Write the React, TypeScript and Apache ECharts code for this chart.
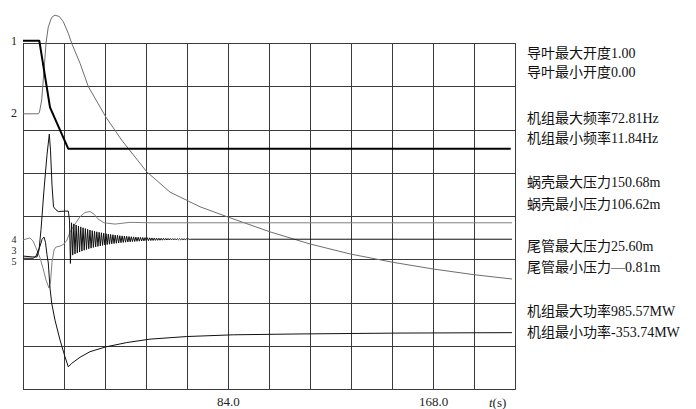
import React, { useEffect, useRef } from "react";
import * as echarts from "echarts";

// ---- axes ----
const X_MAX = 201.6;
const X_STEP = 16.8;
const Y_MAX = 8;
const xLabelValues = [84, 168];

// ---- series (t in s, value in grid divisions) ----
const guideVane: number[][] = [
  [0, 8.06], [6.67, 8.06], [11.05, 6.52], [18.54, 5.56], [199.57, 5.56],
];

const frequency: number[][] = [
  [0, 6.37], [6.34, 6.37], [6.75, 6.41], [7.65, 6.69], [8.72, 7.46], [9.41, 8.0],
  [10.35, 8.38], [11.74, 8.6], [13.09, 8.65], [14.85, 8.62], [16.49, 8.5],
  [18.54, 8.23], [19.93, 8.0], [23.32, 7.54], [26.72, 7.0], [33.84, 6.3],
  [40.39, 5.76], [50.62, 5.03], [60.15, 4.56], [72.43, 4.22], [84.0, 3.98],
  [101.07, 3.64], [117.44, 3.36], [133.81, 3.13], [151.0, 2.94], [168.0, 2.78],
  [184.55, 2.65], [200.1, 2.55],
];

const spiralCaseStart: number[][] = [
  [0, 3.08], [4.09, 3.06], [5.73, 3.06], [6.55, 3.22], [7.37, 3.69], [8.59, 4.61],
  [9.82, 5.42], [10.76, 5.9], [11.25, 5.53], [11.87, 4.72], [12.48, 4.22],
  [13.5, 4.15], [14.44, 4.11], [17.19, 4.12], [18.54, 4.12], [19.03, 3.91],
];
const oscStartT = 19.4;
const oscStepT = 0.47;
const spiralCaseOsc: number[] = [
  2.91, 3.85, 3.103, 3.824, 3.129, 3.799, 3.153, 3.776, 3.175, 3.755, 3.195,
  3.735, 3.214, 3.717, 3.232, 3.699, 3.249, 3.683, 3.264, 3.668, 3.279, 3.654,
  3.292, 3.642, 3.304, 3.63, 3.316, 3.619, 3.327, 3.608, 3.337, 3.599, 3.346,
  3.59, 3.355, 3.581, 3.363, 3.574, 3.37, 3.566, 3.377, 3.56, 3.384, 3.553,
  3.39, 3.547, 3.395, 3.542, 3.401, 3.537, 3.405, 3.532, 3.41, 3.528, 3.414,
  3.524, 3.418, 3.52, 3.422, 3.517, 3.425, 3.513, 3.428, 3.51, 3.431, 3.508,
  3.434, 3.505, 3.436, 3.502, 3.439, 3.5, 3.441, 3.498, 3.443, 3.496, 3.445,
  3.494, 3.447, 3.492, 3.448, 3.491, 3.45, 3.489, 3.451, 3.488, 3.453, 3.487,
  3.454, 3.485, 3.455, 3.484, 3.456, 3.483, 3.457, 3.482, 3.458, 3.481, 3.459,
  3.48, 3.46, 3.48, 3.461, 3.479, 3.461,
];
const spiralCaseEnd: number[][] = [[68.6, 3.47], [200.1, 3.47]];

const draftTube: number[][] = [
  [0, 3.45], [1.23, 3.475], [2.86, 3.5], [4.09, 3.43], [5.32, 3.27], [6.96, 3.04],
  [8.18, 2.8], [9.41, 2.53], [10.64, 2.34], [11.25, 2.48], [11.87, 2.94],
  [12.69, 3.22], [13.5, 3.29], [15.14, 3.31], [16.78, 3.36], [18.0, 3.45],
  [19.23, 3.64], [21.28, 3.82], [23.32, 3.99], [25.37, 4.09], [27.42, 4.11],
  [29.05, 4.05], [30.69, 3.94], [33.15, 3.85], [37.65, 3.82], [43.78, 3.86],
  [51.97, 3.85], [200.1, 3.85],
];

const power: number[][] = [
  [0, 3.03], [4.21, 3.03], [5.32, 3.08], [6.96, 3.31], [7.8, 3.47], [8.59, 3.52],
  [9.2, 3.4], [9.82, 3.11], [10.35, 2.92], [11.05, 2.34], [11.74, 1.99],
  [13.09, 1.6], [15.14, 1.14], [17.19, 0.75], [18.54, 0.52], [19.93, 0.6],
  [23.32, 0.74], [27.42, 0.87], [33.84, 0.98], [42.43, 1.08], [51.97, 1.16],
  [66.99, 1.22], [86.06, 1.26], [113.35, 1.28], [154.27, 1.3], [200.1, 1.31],
];

// ---- texts ----
const leftLabels = ["1", "2", "4", "3", "5"];
const rightLabels = [
  "导叶最大开度1.00",
  "导叶最小开度0.00",
  "机组最大频率72.81Hz",
  "机组最小频率11.84Hz",
  "蜗壳最大压力150.68m",
  "蜗壳最小压力106.62m",
  "尾管最大压力25.60m",
  "尾管最小压力—0.81m",
  "机组最大功率985.57MW",
  "机组最小功率-353.74MW",
];
const axisUnit = "(s)";
const axisVar = "t";

// layout
const leftLabelY = [41, 113, 239.5, 250.3, 261];
const leftLabelSize = [12, 12, 10, 10, 10];
const rightLabelY = [53.3, 72.7, 118.3, 138.3, 182.7, 204.3, 246, 267.3, 311.7, 332.7];

const SERIF = "'Liberation Serif', 'Noto Sans CJK SC', serif";

export default function App() {
  const ref = useRef<HTMLDivElement>(null);
  useEffect(() => {
    document.body.style.margin = "0";
    const chart = echarts.init(ref.current!, null, { renderer: "svg" });
    const spiralCase = [
      ...spiralCaseStart,
      ...spiralCaseOsc.map((v, i) => [oscStartT + i * oscStepT, v]),
      ...spiralCaseEnd,
    ];
    const line = (data: number[][], color: string, width: number, z: number) => ({
      type: "line",
      data,
      showSymbol: false,
      symbol: "none",
      clip: false,
      silent: true,
      z,
      lineStyle: { color, width },
    });
    const graphics: any[] = [];
    leftLabels.forEach((t, i) => {
      graphics.push({
        type: "text",
        x: 14,
        y: leftLabelY[i],
        style: {
          text: t, fill: "#222", font: `${leftLabelSize[i]}px ${SERIF}`, lineHeight: 9,
          textAlign: "center", textVerticalAlign: "middle", align: "center", verticalAlign: "middle",
        },
      });
    });
    rightLabels.forEach((t, i) => {
      graphics.push({
        type: "text",
        x: 527,
        y: rightLabelY[i],
        style: {
          text: t, fill: "#111", font: `14px ${SERIF}`,
          textAlign: "left", textVerticalAlign: "middle", align: "left", verticalAlign: "middle",
        },
      });
    });
    graphics.push({
      type: "text",
      x: 489,
      y: 402,
      style: {
        text: `{i|${axisVar}}{n|${axisUnit}}`,
        fill: "#222",
        font: `13px ${SERIF}`,
        textVerticalAlign: "middle",
        verticalAlign: "middle",
        rich: {
          i: { fontStyle: "italic", fontFamily: SERIF, fontSize: 13, fill: "#222", color: "#222" },
          n: { fontFamily: SERIF, fontSize: 13, fill: "#222", color: "#222" },
        },
      },
    });

    chart.setOption({
      animation: false,
      backgroundColor: "#fff",
      grid: { left: 23, right: 180.3, top: 43.3, bottom: 19.7, containLabel: false },
      xAxis: {
        type: "value",
        min: 0,
        max: X_MAX,
        interval: X_STEP,
        axisLine: { show: false },
        axisTick: { show: false },
        axisLabel: {
          margin: 6,
          color: "#222",
          fontFamily: SERIF,
          fontSize: 13,
          formatter: (v: number) =>
            xLabelValues.some((x) => Math.abs(x - v) < 0.01) ? v.toFixed(1) : "",
        },
        splitLine: { show: true, lineStyle: { color: "#3a3a3a", width: 1 } },
      },
      yAxis: {
        type: "value",
        min: 0,
        max: Y_MAX,
        interval: 1,
        axisLine: { show: false },
        axisTick: { show: false },
        axisLabel: { show: false },
        splitLine: { show: true, lineStyle: { color: "#3a3a3a", width: 1 } },
      },
      graphic: graphics,
      series: [
        line(frequency, "#6e6e6e", 1, 3),
        line(draftTube, "#808080", 1, 3),
        line(power, "#111", 1, 4),
        line(spiralCase, "#111", 1, 5),
        line(guideVane, "#000", 2, 6),
      ],
    });
    return () => chart.dispose();
  }, []);
  return <div ref={ref} style={{ width: 696, height: 409 }} />;
}
